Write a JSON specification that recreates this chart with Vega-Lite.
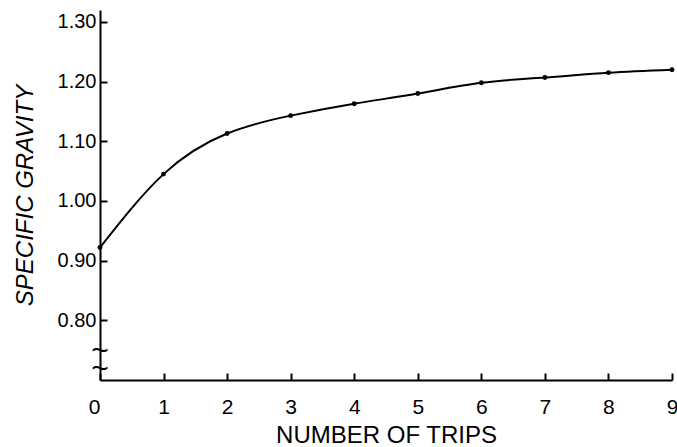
{
  "$schema": "https://vega.github.io/schema/vega-lite/v6.json",
  "width": 572,
  "height": 370,
  "autosize": "none",
  "padding": {"left": 100, "top": 10, "right": 5, "bottom": 67},
  "background": "white",
  "config": {
    "view": {"stroke": null},
    "font": "Liberation Sans",
    "axis": {
      "domainColor": "black",
      "domainWidth": 2,
      "tickColor": "black",
      "tickWidth": 2,
      "labelColor": "black",
      "titleColor": "black",
      "grid": false,
      "labelFont": "Liberation Sans",
      "titleFont": "Liberation Sans",
      "titleFontWeight": "normal"
    }
  },
  "datasets": {
    "trips": [
      {"trips": 0, "sg": 0.922},
      {"trips": 1, "sg": 1.045},
      {"trips": 2, "sg": 1.113},
      {"trips": 3, "sg": 1.143},
      {"trips": 4, "sg": 1.163},
      {"trips": 5, "sg": 1.180},
      {"trips": 6, "sg": 1.198},
      {"trips": 7, "sg": 1.207},
      {"trips": 8, "sg": 1.215},
      {"trips": 9, "sg": 1.220}
    ],
    "brk": [
      {"trips": 0, "sg": 0.748, "sym": "~"},
      {"trips": 0, "sg": 0.719, "sym": "~"}
    ]
  },
  "layer": [
    {
      "data": {"name": "trips"},
      "mark": {"type": "line", "color": "black", "strokeWidth": 2, "interpolate": "natural"},
      "encoding": {
        "x": {
          "field": "trips", "type": "quantitative",
          "scale": {"domain": [0, 9], "nice": false},
          "axis": {
            "values": [0, 1, 2, 3, 4, 5, 6, 7, 8, 9],
            "format": "d",
            "title": "NUMBER OF TRIPS",
            "titleFontSize": 24,
            "titlePadding": 6,
            "labelFontSize": 21,
            "labelPadding": 23,
            "tickSize": -7,
            "labelAlign": {"expr": "datum.value == 0 ? 'right' : 'center'"}
          }
        },
        "y": {
          "field": "sg", "type": "quantitative",
          "scale": {"domain": [0.70, 1.32], "nice": false, "zero": false},
          "axis": {
            "values": [0.8, 0.9, 1.0, 1.1, 1.2, 1.3],
            "format": ".2f",
            "title": "SPECIFIC GRAVITY",
            "titleFontSize": 24,
            "titleFontStyle": "italic",
            "titlePadding": 20,
            "labelFontSize": 20,
            "labelPadding": 11,
            "tickSize": -7
          }
        }
      }
    },
    {
      "data": {"name": "trips"},
      "mark": {"type": "circle", "color": "black", "size": 24, "opacity": 1},
      "encoding": {
        "x": {"field": "trips", "type": "quantitative"},
        "y": {"field": "sg", "type": "quantitative"}
      }
    },
    {
      "mark": {"type": "rect", "color": "white"},
      "encoding": {
        "x": {"datum": -0.1},
        "x2": {"datum": 0.1},
        "y": {"datum": 0.727},
        "y2": {"datum": 0.745}
      }
    },
    {
      "data": {"name": "brk"},
      "mark": {"type": "text", "fontSize": 30, "color": "black", "baseline": "middle"},
      "encoding": {
        "x": {"field": "trips", "type": "quantitative"},
        "y": {"field": "sg", "type": "quantitative"},
        "text": {"field": "sym"}
      }
    }
  ]
}
